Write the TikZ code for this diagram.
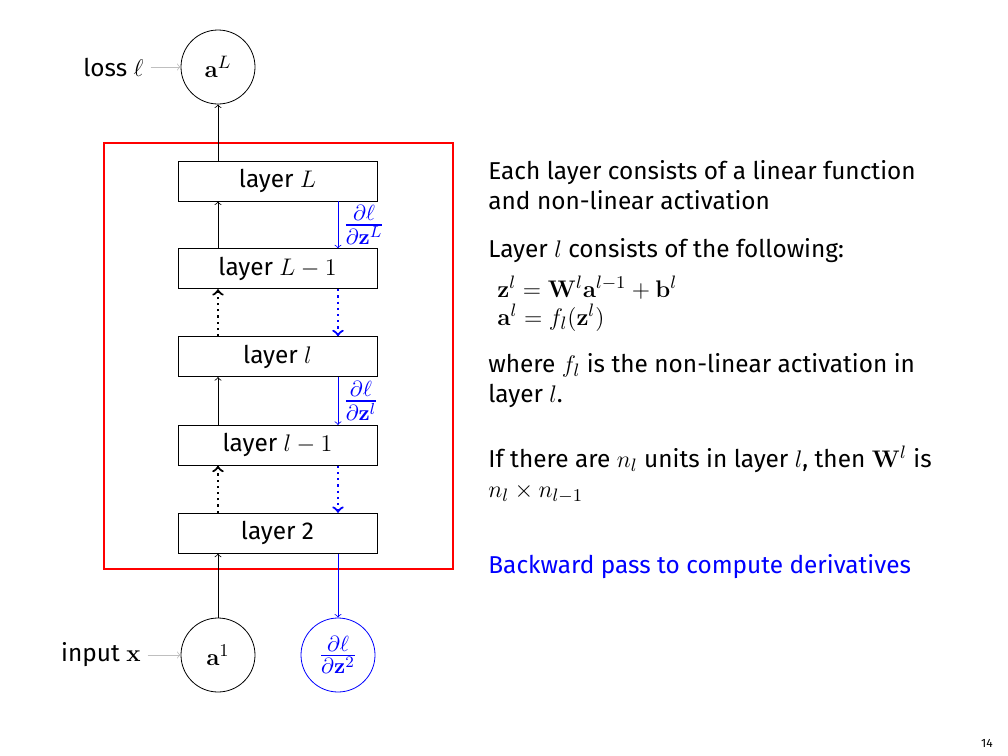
\documentclass[tikz,border=0pt]{standalone}
\usepackage{amsmath}
\usepackage{amssymb}
\usepackage{bm}
\usepackage[no-math]{fontspec}
\setmainfont{Fira Sans}
\usetikzlibrary{positioning}

\begin{document}
\begin{tikzpicture}[x=0.5pt,y=-0.5pt,
		every node/.style={font=\fontsize{12.2}{15}\selectfont},
		unit/.style={draw,circle,minimum size=37pt,inner sep=0pt},
		layerbox/.style={draw,minimum width=99.5pt,minimum height=20pt,inner sep=0pt},
		fwd/.style={->},
		bwd/.style={->,blue},
		skip/.style={line width=1.1pt,dotted},
		feed/.style={->,gray!50},
		grad/.style={font=\fontsize{15.5}{18}\selectfont},
		txt/.style={anchor=base west,inner sep=0pt,align=left}]
	\useasboundingbox (0,0) rectangle (1008,756);
	% nodes
	\node[unit] (aL) at (218,67) {$\mathbf{a}^L$};
	\node[unit] (a1) at (218,655) {$\mathbf{a}^1$};
	\node[unit,blue,grad] (dz2) at (338,655) {$\frac{\partial\ell}{\partial\mathbf{z}^2}$};
	\node[left=15pt of aL] (loss) {loss $\ell$};
	\node[left=16.5pt of a1] (inp) {input $\mathbf{x}$};
	%
	\node[layerbox] (lL) at (277.5,181) {layer $L$};
	\node[layerbox,below=23.5pt of lL] (lL1) {layer $L-1$};
	\node[layerbox,below=23.5pt of lL1] (ll) {layer $l$};
	\node[layerbox,below=24pt of ll] (ll1) {layer $l-1$};
	\node[layerbox,below=23.5pt of ll1] (l2) {layer 2};
	\draw[red,line width=1pt] (104,143) rectangle (453,569);
	%
	\draw[feed] (loss) -- (aL);
	\draw[feed] (inp) -- (a1);
	\draw[fwd] (lL.north -| aL) -- (aL);
	\draw[fwd] (lL1.north -| aL) -- (lL.south -| aL);
	\draw[fwd,skip] (ll.north -| aL) -- (lL1.south -| aL);
	\draw[fwd] (ll1.north -| aL) -- (ll.south -| aL);
	\draw[fwd,skip] (l2.north -| aL) -- (ll1.south -| aL);
	\draw[fwd] (a1) -- (l2.south -| a1);
	%
	\draw[bwd] (lL.south -| dz2) -- node[right,grad,inner sep=2.5pt] {$\frac{\partial\ell}{\partial\mathbf{z}^L}$} (lL1.north -| dz2);
	\draw[bwd,skip] (lL1.south -| dz2) -- (ll.north -| dz2);
	\draw[bwd] (ll.south -| dz2) -- node[right,grad,inner sep=2.5pt] {$\frac{\partial\ell}{\partial\mathbf{z}^l}$} (ll1.north -| dz2);
	\draw[bwd,skip] (ll1.south -| dz2) -- (l2.north -| dz2);
	\draw[bwd] (l2.south -| dz2) -- (dz2);
	% text on the right
	\node[txt] (t1) at (488,209) {Each layer consists of a linear function\\and non-linear activation};
	\node[txt] (t2) at (488,257) {Layer $l$ consists of the following:};
	\node[txt,font=\fontsize{12.2}{14}\selectfont] (eq) at (497,325) {$\mathbf{z}^l=\mathbf{W}^l\mathbf{a}^{l-1}+\mathbf{b}^l$\\$\mathbf{a}^l=f_l(\mathbf{z}^l)$};
	\node[txt] (t3) at (488,402) {where $f_l$ is the non-linear activation in\\layer $l$.};
	\node[txt] (t4) at (488,497) {If there are $n_l$ units in layer $l$, then $\mathbf{W}^l$ is\\$n_l\times n_{l-1}$};
	\node[txt,blue] (t5) at (488,573) {Backward pass to compute derivatives};
	\node[font=\fontsize{6}{7}\selectfont] (pg) at (987,743) {14};
\end{tikzpicture}
\end{document}
